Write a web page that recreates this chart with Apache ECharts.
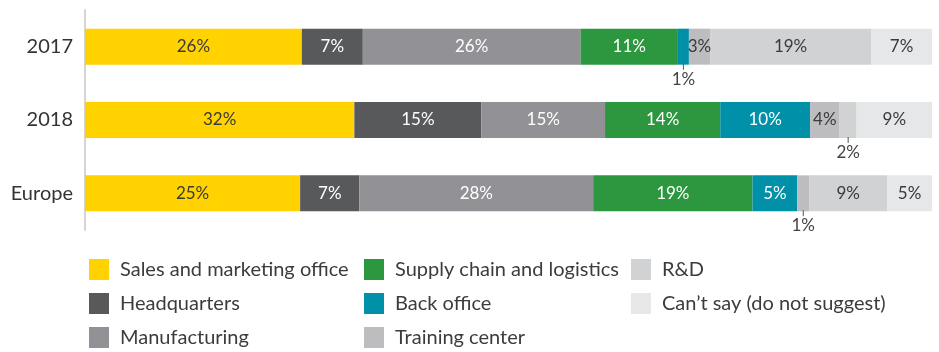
<!DOCTYPE html>
<html>
<head>
<meta charset="utf-8">
<script src="https://cdn.jsdelivr.net/npm/echarts@6/dist/echarts.min.js"></script>
<style>
  html, body { margin: 0; padding: 0; background: #fff; }
  #chart { width: 939px; height: 352px; }
</style>
</head>
<body>
<div id="chart"></div>
<script>
const categories = ['2017', '2018', 'Europe']
const segments = [
  'Sales and marketing office',
  'Headquarters',
  'Manufacturing',
  'Supply chain and logistics',
  'Back office',
  'Training center',
  'R&D',
  'Can’t say (do not suggest)'
]

// bar widths (each row fills 100%)
const share2017 = [25.6, 7.2, 25.7, 11.5, 1.3, 2.5, 19.0, 7.2]
const share2018 = [31.8, 15.0, 14.6, 13.6, 10.6, 3.5, 2.0, 8.9]
const shareEurope = [25.4, 7.0, 27.6, 18.8, 5.3, 1.4, 9.2, 5.3]

// printed labels
const shown2017 = [26, 7, 26, 11, 1, 3, 19, 7]
const shown2018 = [32, 15, 15, 14, 10, 4, 2, 9]
const shownEurope = [25, 7, 28, 19, 5, 1, 9, 5]

const colors = ['#ffd200', '#58595b', '#919196', '#2c973e', '#0090a7', '#bdbdc0', '#d1d2d4', '#e6e7e8']
const labelColors = ['#3a3a3a', '#fff', '#fff', '#fff', '#fff', '#3a3a3a', '#3a3a3a', '#3a3a3a']

const shares = [share2017, share2018, shareEurope]
const shown = [shown2017, shown2018, shownEurope]
const font = 'Lato, "Open Sans", sans-serif'

const series = segments.map((name, s) => ({
  name: name,
  type: 'bar',
  stack: 'total',
  barWidth: 36,
  itemStyle: { color: colors[s] },
  label: {
    show: true,
    position: 'inside',
    color: labelColors[s],
    fontFamily: font,
    fontSize: 17
  },
  data: categories.map((c, i) => {
    const v = shares[i][s]
    const txt = shown[i][s] + '%'
    if (v < 2.2) {
      // small piece: label below the bar with a short tick
      return {
        value: v,
        label: {
          position: 'bottom',
          distance: -1,
          formatter: '{t|}\n{v|' + txt + '}',
          rich: {
            t: { width: 1, height: 6, backgroundColor: '#555', lineHeight: 6 },
            v: { color: '#444', fontFamily: font, fontSize: 17, lineHeight: 19 }
          }
        }
      }
    }
    return { value: v, label: { formatter: txt } }
  })
}))

const legendBase = {
  orient: 'vertical',
  top: 259,
  height: 93,
  padding: 0,
  itemWidth: 20,
  itemHeight: 21,
  itemGap: 13,
  icon: 'rect',
  selectedMode: false,
  textStyle: { fontFamily: font, fontSize: 20, color: '#3c3c3c', padding: [0, 0, 0, 6] }
}

const chart = echarts.init(document.getElementById('chart'))
chart.setOption({
  animation: false,
  grid: { left: 85, right: 7, top: 10, height: 220 },
  xAxis: { type: 'value', min: 0, max: 100, show: false },
  yAxis: {
    type: 'category',
    inverse: true,
    data: categories,
    axisTick: { show: false },
    axisLine: { lineStyle: { color: '#d5d5d5', width: 2 } },
    axisLabel: { fontFamily: font, fontSize: 20, color: '#333', margin: 12 }
  },
  legend: [
    Object.assign({}, legendBase, { left: 89, data: segments.slice(0, 3) }),
    Object.assign({}, legendBase, { left: 364, data: segments.slice(3, 6) }),
    Object.assign({}, legendBase, { left: 631, data: segments.slice(6, 8) })
  ],
  series: series
})
</script>
</body>
</html>
